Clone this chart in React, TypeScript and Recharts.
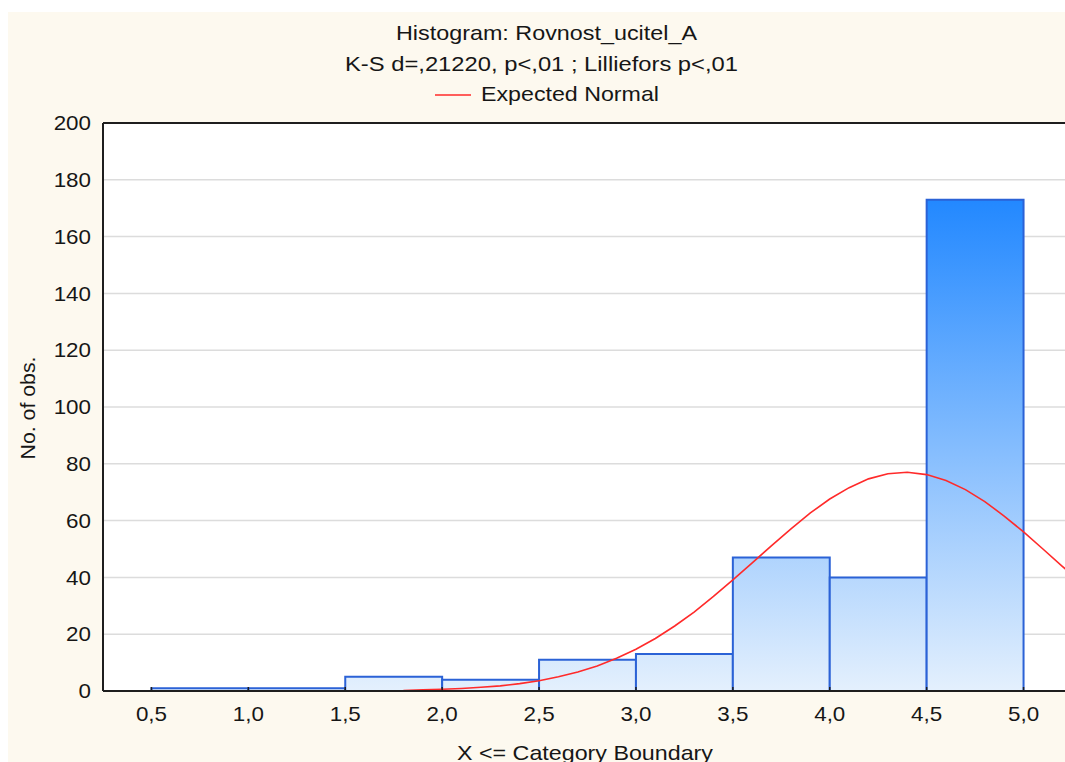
import React from 'react';
import { ComposedChart, Line, XAxis, YAxis, CartesianGrid, ReferenceArea } from 'recharts';

// Histogram bins (X <= category boundary) and observed counts
const binStart = [0.5, 1.0, 1.5, 2.0, 2.5, 3.0, 3.5, 4.0, 4.5];
const binEnd = [1.0, 1.5, 2.0, 2.5, 3.0, 3.5, 4.0, 4.5, 5.0];
const binCounts = [1, 1, 5, 4, 11, 13, 47, 40, 173];

// Expected normal curve, sampled points
const curveX = [
  1.8, 1.9, 2.0, 2.1, 2.2, 2.3, 2.4, 2.5, 2.6, 2.7, 2.8, 2.9, 3.0, 3.1, 3.2, 3.3, 3.4, 3.5,
  3.6, 3.7, 3.8, 3.9, 4.0, 4.1, 4.2, 4.3, 4.4, 4.5, 4.6, 4.7, 4.8, 4.9, 5.0, 5.1, 5.2, 5.3,
];
const curveY = [
  0.2, 0.4, 0.6, 0.9, 1.3, 1.8, 2.6, 3.6, 5.0, 6.7, 8.8, 11.5, 14.7, 18.5, 22.9, 27.8, 33.3, 39.1,
  45.1, 51.2, 57.1, 62.7, 67.6, 71.6, 74.7, 76.5, 77.0, 76.2, 74.1, 70.9, 66.7, 61.6, 56.0, 50.0, 43.9, 37.9,
];

const xTicks = [0.5, 1.0, 1.5, 2.0, 2.5, 3.0, 3.5, 4.0, 4.5, 5.0];
const yTicks = [0, 20, 40, 60, 80, 100, 120, 140, 160, 180, 200];

const titleText = 'Histogram: Rovnost_ucitel_A';
const subtitleText = 'K-S d=,21220, p<,01 ; Lilliefors p<,01';
const legendText = 'Expected Normal';
const xAxisTitle = 'X <= Category Boundary';
const yAxisTitle = 'No. of obs.';

const curveData = curveX.map((x, i) => ({ x, y: curveY[i] }));

const FONT = '"Liberation Sans", Arial, sans-serif';
const INK = '#161616';
const AXIS = '#1e1e1e';
const STRETCH = 1.12;

const fmtComma = (v: number) => v.toFixed(1).replace('.', ',');

const XTick = (props: any) => {
  const { x, y, payload } = props;
  return (
    <g transform={`translate(${x},${y})`}>
      <text
        transform={`scale(${STRETCH},1)`}
        textAnchor="middle"
        dy="0.71em"
        fontFamily={FONT}
        fontSize={20}
        fill={INK}
      >
        {fmtComma(payload.value)}
      </text>
    </g>
  );
};

const YTick = (props: any) => {
  const { x, y, payload } = props;
  return (
    <g transform={`translate(${x},${y})`}>
      <text
        transform={`scale(${STRETCH},1)`}
        textAnchor="end"
        dy="0.355em"
        fontFamily={FONT}
        fontSize={20}
        fill={INK}
      >
        {payload.value}
      </text>
    </g>
  );
};

export default function App() {
  return (
    <div
      style={{
        position: 'absolute',
        left: 8,
        top: 12,
        width: 1057,
        height: 750,
        overflow: 'hidden',
        background: '#fdf9ef',
      }}
    >
      <ComposedChart
        width={1064}
        height={750}
        data={curveData}
        margin={{ top: 110, right: 0, bottom: 0, left: 0 }}
      >
        <defs>
          <linearGradient id="barFill" gradientUnits="userSpaceOnUse" x1="0" y1="187" x2="0" y2="679">
            <stop offset="0" stopColor="#2288ff" />
            <stop offset="1" stopColor="#e4f0fd" />
          </linearGradient>
        </defs>
        <CartesianGrid
          vertical={false}
          stroke="#dcdcdc"
          strokeWidth={1.5}
          fill="#ffffff"
          fillOpacity={1}
        />
        <XAxis
          dataKey="x"
          type="number"
          domain={[0.25, 5.25]}
          allowDataOverflow
          ticks={xTicks}
          interval={0}
          height={71}
          tickSize={-4}
          tickMargin={20}
          tick={<XTick />}
          axisLine={{ stroke: AXIS, strokeWidth: 2 }}
          tickLine={{ stroke: AXIS, strokeWidth: 1.5 }}
        />
        <XAxis
          xAxisId="top"
          orientation="top"
          dataKey="x"
          type="number"
          domain={[0.25, 5.25]}
          allowDataOverflow
          ticks={xTicks}
          interval={0}
          height={1}
          tickSize={-5}
          tick={false}
          axisLine={{ stroke: AXIS, strokeWidth: 2 }}
          tickLine={{ stroke: AXIS, strokeWidth: 1.5 }}
        />
        <YAxis
          type="number"
          domain={[0, 200]}
          ticks={yTicks}
          interval={0}
          width={95}
          tickSize={0}
          tickMargin={12}
          tick={<YTick />}
          tickLine={false}
          axisLine={{ stroke: AXIS, strokeWidth: 2 }}
        />
        {binCounts.map((c, i) => (
          <ReferenceArea
            key={`bin-${i}`}
            x1={binStart[i]}
            x2={binEnd[i]}
            y1={0}
            y2={c}
            fill="url(#barFill)"
            fillOpacity={1}
            stroke="#2b62d6"
            strokeWidth={2}
            ifOverflow="visible"
          />
        ))}
        <Line
          type="linear"
          dataKey="y"
          stroke="#ff2a2a"
          strokeWidth={1.6}
          dot={false}
          activeDot={false}
          isAnimationActive={false}
        />
      </ComposedChart>
      <svg
        width={1057}
        height={750}
        style={{ position: 'absolute', left: 0, top: 0, pointerEvents: 'none' }}
        fontFamily={FONT}
        fill={INK}
      >
        <text x={538.5} y={28} fontSize={21} textAnchor="middle" textLength={301} lengthAdjust="spacingAndGlyphs">
          {titleText}
        </text>
        <text x={533.5} y={59} fontSize={21} textAnchor="middle" textLength={393} lengthAdjust="spacingAndGlyphs">
          {subtitleText}
        </text>
        <line x1={427} y1={83} x2={463} y2={83} stroke="#ff2a2a" strokeWidth={1.6} />
        <text x={473} y={89} fontSize={21} textLength={178} lengthAdjust="spacingAndGlyphs">
          {legendText}
        </text>
        <text x={577} y={748} fontSize={21} textAnchor="middle" textLength={256} lengthAdjust="spacingAndGlyphs">
          {xAxisTitle}
        </text>
        <text
          x={27}
          y={396}
          fontSize={21}
          textAnchor="middle"
          textLength={103}
          lengthAdjust="spacingAndGlyphs"
          transform="rotate(-90 27 396)"
        >
          {yAxisTitle}
        </text>
      </svg>
    </div>
  );
}
